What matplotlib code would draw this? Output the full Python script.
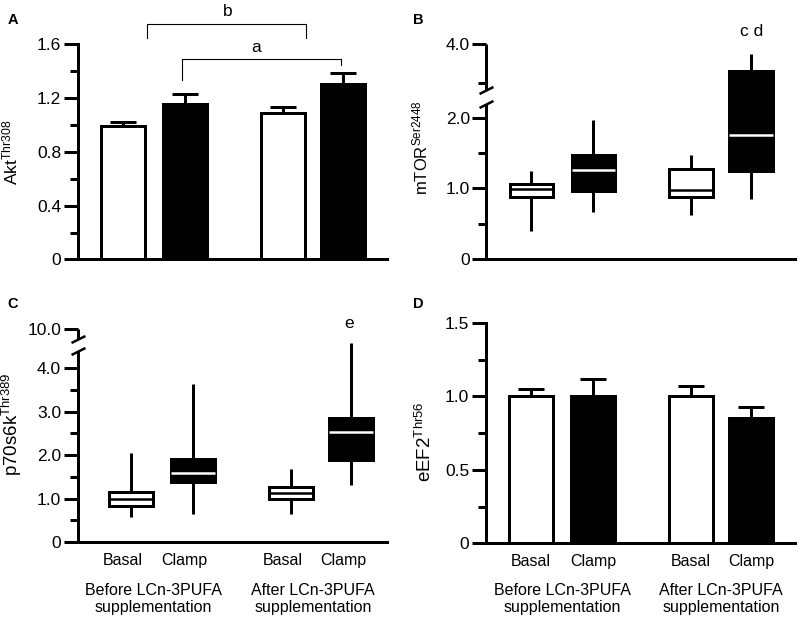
import numpy as np
import matplotlib.pyplot as plt

plt.rcParams['font.family'] = ['Liberation Sans', 'DejaVu Sans']

# --- data ---
groups = ['Basal', 'Clamp', 'Basal', 'Clamp']
periods = ['Before LCn-3PUFA\nsupplementation', 'After LCn-3PUFA\nsupplementation']
is_clamp = [False, True, False, True]

akt_mean = [0.99, 1.156, 1.091, 1.303]
akt_sem = [0.03, 0.077, 0.044, 0.087]

eef2_mean = [1.0, 1.0, 1.0, 0.852]
eef2_sem = [0.053, 0.122, 0.071, 0.075]

mtor_lo = [0.40, 0.67, 0.63, 0.85]
mtor_q1 = [0.875, 0.97, 0.875, 1.25]
mtor_med = [0.99, 1.26, 0.98, 1.76]
mtor_q3 = [1.07, 1.475, 1.27, 3.65]
mtor_hi = [1.25, 1.97, 1.475, 3.88]

p70_lo = [0.58, 0.64, 0.64, 1.31]
p70_q1 = [0.83, 1.385, 0.985, 1.885]
p70_med = [1.0, 1.59, 1.12, 2.54]
p70_q3 = [1.15, 1.90, 1.27, 2.85]
p70_hi = [2.05, 3.63, 1.69, 4.58]

# significance brackets in panel A
bracket_b_x = [1.387, 1.387, 3.952, 3.952]
bracket_b_y = [1.648, 1.752, 1.752, 1.648]
bracket_a_x = [1.951, 1.951, 4.516, 4.516]
bracket_a_y = [1.336, 1.492, 1.492, 1.447]

pos = np.array([1.0, 2.0, 3.58, 4.55])
xlim = (0.274, 5.258)
LW = 2.16


def style_axis(ax, ylim, major, major_labels, minor, ylabel, label_xy, label_size):
  ax.set_xlim(*xlim)
  ax.set_ylim(*ylim)
  for s in ['top', 'right']:
    ax.spines[s].set_visible(False)
  ax.spines['left'].set_linewidth(LW)
  ax.spines['bottom'].set_linewidth(LW)
  ax.set_yticks(major, labels=major_labels)
  ax.set_yticks(minor, minor=True)
  ax.tick_params(axis='y', which='major', length=10, width=LW, labelsize=12.5, pad=2)
  ax.tick_params(axis='y', which='minor', length=5.5, width=LW)
  ax.tick_params(axis='x', length=0, labelsize=11.5, pad=8)
  ax.set_ylabel(ylabel, fontsize=label_size)
  ax.yaxis.set_label_coords(*label_xy)


def broken(ax, xp, fp, segments, slashes):
  fwd = lambda y: np.interp(y, xp, fp)
  inv = lambda f: np.interp(f, fp, xp)
  ax.set_yscale('function', functions=(fwd, inv))
  ax.spines['left'].set_visible(False)
  tr = ax.get_yaxis_transform()
  for y0, y1 in segments:
    ax.plot([0, 0], [y0, y1], color='k', lw=LW, transform=tr, clip_on=False,
            solid_capstyle='butt')
  ax.plot([0] * len(slashes), slashes, ls='none', marker=[(-1, -0.5), (1, 0.5)],
          ms=10, mec='k', mew=1.8, transform=tr, clip_on=False)


def bars(ax, mean, sem):
  colors = ['black' if c else 'white' for c in is_clamp]
  ax.bar(pos, mean, width=0.7, color=colors, edgecolor='black', linewidth=LW, zorder=2)
  ax.errorbar(pos, mean, yerr=[np.zeros(len(sem)), sem], fmt='none', ecolor='black',
              elinewidth=LW, capsize=9.5, capthick=LW, zorder=3)


def boxes(ax, lo, q1, med, q3, hi, x):
  stats = [dict(whislo=a, q1=b, med=c, q3=d, whishi=e)
           for a, b, c, d, e in zip(lo, q1, med, q3, hi)]
  bp = ax.bxp(stats, positions=x, widths=0.7, patch_artist=True, showcaps=False,
              showfliers=False, manage_ticks=False,
              whiskerprops=dict(color='k', lw=LW, solid_capstyle='butt'),
              boxprops=dict(lw=LW, edgecolor='k'),
              medianprops=dict(lw=1.8, solid_capstyle='butt'))
  for patch, mline, clamp in zip(bp['boxes'], bp['medians'], is_clamp):
    patch.set_facecolor('black' if clamp else 'white')
    mline.set_color('white' if clamp else 'black')


def group_labels(ax, dy):
  for i, txt in enumerate(periods):
    mid = (pos[2 * i] + pos[2 * i + 1]) / 2
    ax.annotate(txt, xy=(mid, 0), xycoords=('data', 'axes fraction'), xytext=(0, dy),
                textcoords='offset points', ha='center', va='center', fontsize=11.5,
                linespacing=1.2)


fig = plt.figure(figsize=(8, 6.23), dpi=100)
axA = fig.add_axes([0.0975, 0.5835, 0.386, 0.3451])
axB = fig.add_axes([0.6081, 0.5843, 0.3856, 0.3446])
axC = fig.add_axes([0.0971, 0.1300, 0.3866, 0.3419])
axD = fig.add_axes([0.6075, 0.1279, 0.3863, 0.3536])

# A: Akt
bars(axA, akt_mean, akt_sem)
style_axis(axA, (0, 1.6), [0, 0.4, 0.8, 1.2, 1.6], ['0', '0.4', '0.8', '1.2', '1.6'],
           [0.2, 0.6, 1.0, 1.4], r'$\mathregular{Akt^{Thr308}}$', (-0.188, 0.5), 12.5)
axA.set_xticks([])
axA.plot(bracket_b_x, bracket_b_y, color='k', lw=0.8, clip_on=False)
axA.plot(bracket_a_x, bracket_a_y, color='k', lw=0.8, clip_on=False)
axA.text(2.69, 1.842, 'b', ha='center', va='center', fontsize=12.5)
axA.text(3.145, 1.581, 'a', ha='center', va='center', fontsize=12.5)

# B: mTOR (broken axis)
broken(axB, [-100, 2.2, 3.4, 100], [-100, 2.2, 2.391, 2.391 + 96.6 * 1.09],
       [(0, 2.2), (3.4, 4.0)], [2.2, 3.4])
boxes(axB, mtor_lo, mtor_q1, mtor_med, mtor_q3, mtor_hi, pos)
style_axis(axB, (0, 4.0), [0, 1, 2, 4], ['0', '1.0', '2.0', '4.0'], [0.5, 1.5, 3.5],
           r'$\mathregular{mTOR^{Ser2448}}$', (-0.183, 0.516), 12)
axB.set_xticks([])
axB.text(pos[3], 4.16, 'c d', ha='center', va='center', fontsize=12.5)

# C: p70s6k (broken axis)
broken(axC, [-100, 4.58, 9.4, 100], [-100, 4.58, 4.60, 4.60 + 90.6 * 0.5],
       [(0, 4.39), (9.52, 10.0)], [4.39, 9.52])
boxes(axC, p70_lo, p70_q1, p70_med, p70_q3, p70_hi, pos + 0.13)
style_axis(axC, (0, 10.0), [0, 1, 2, 3, 4, 10], ['0', '1.0', '2.0', '3.0', '4.0', '10.0'],
           [0.5, 1.5, 2.5, 3.5], r'$\mathregular{p70s6k^{Thr389}}$', (-0.172, 0.554), 13.5)
axC.set_xticks(pos, labels=groups)
axC.text(pos[3] + 0.1, 10.25, 'e', ha='center', va='center', fontsize=12.5)
group_labels(axC, -41)

# D: eEF2
bars(axD, eef2_mean, eef2_sem)
style_axis(axD, (0, 1.5), [0, 0.5, 1.0, 1.5], ['0', '0.5', '1.0', '1.5'],
           [0.25, 0.75, 1.25], r'$\mathregular{eEF2^{Thr56}}$', (-0.165, 0.46), 13.5)
axD.set_xticks(pos, labels=groups)
group_labels(axD, -40)

for lbl, x, y in [('A', 0.009, 0.979), ('B', 0.516, 0.979), ('C', 0.009, 0.524), ('D', 0.516, 0.524)]:
  fig.text(x, y, lbl, fontsize=10.5, fontweight='bold', va='top', ha='left')

fig.savefig('out.png', dpi=100)
